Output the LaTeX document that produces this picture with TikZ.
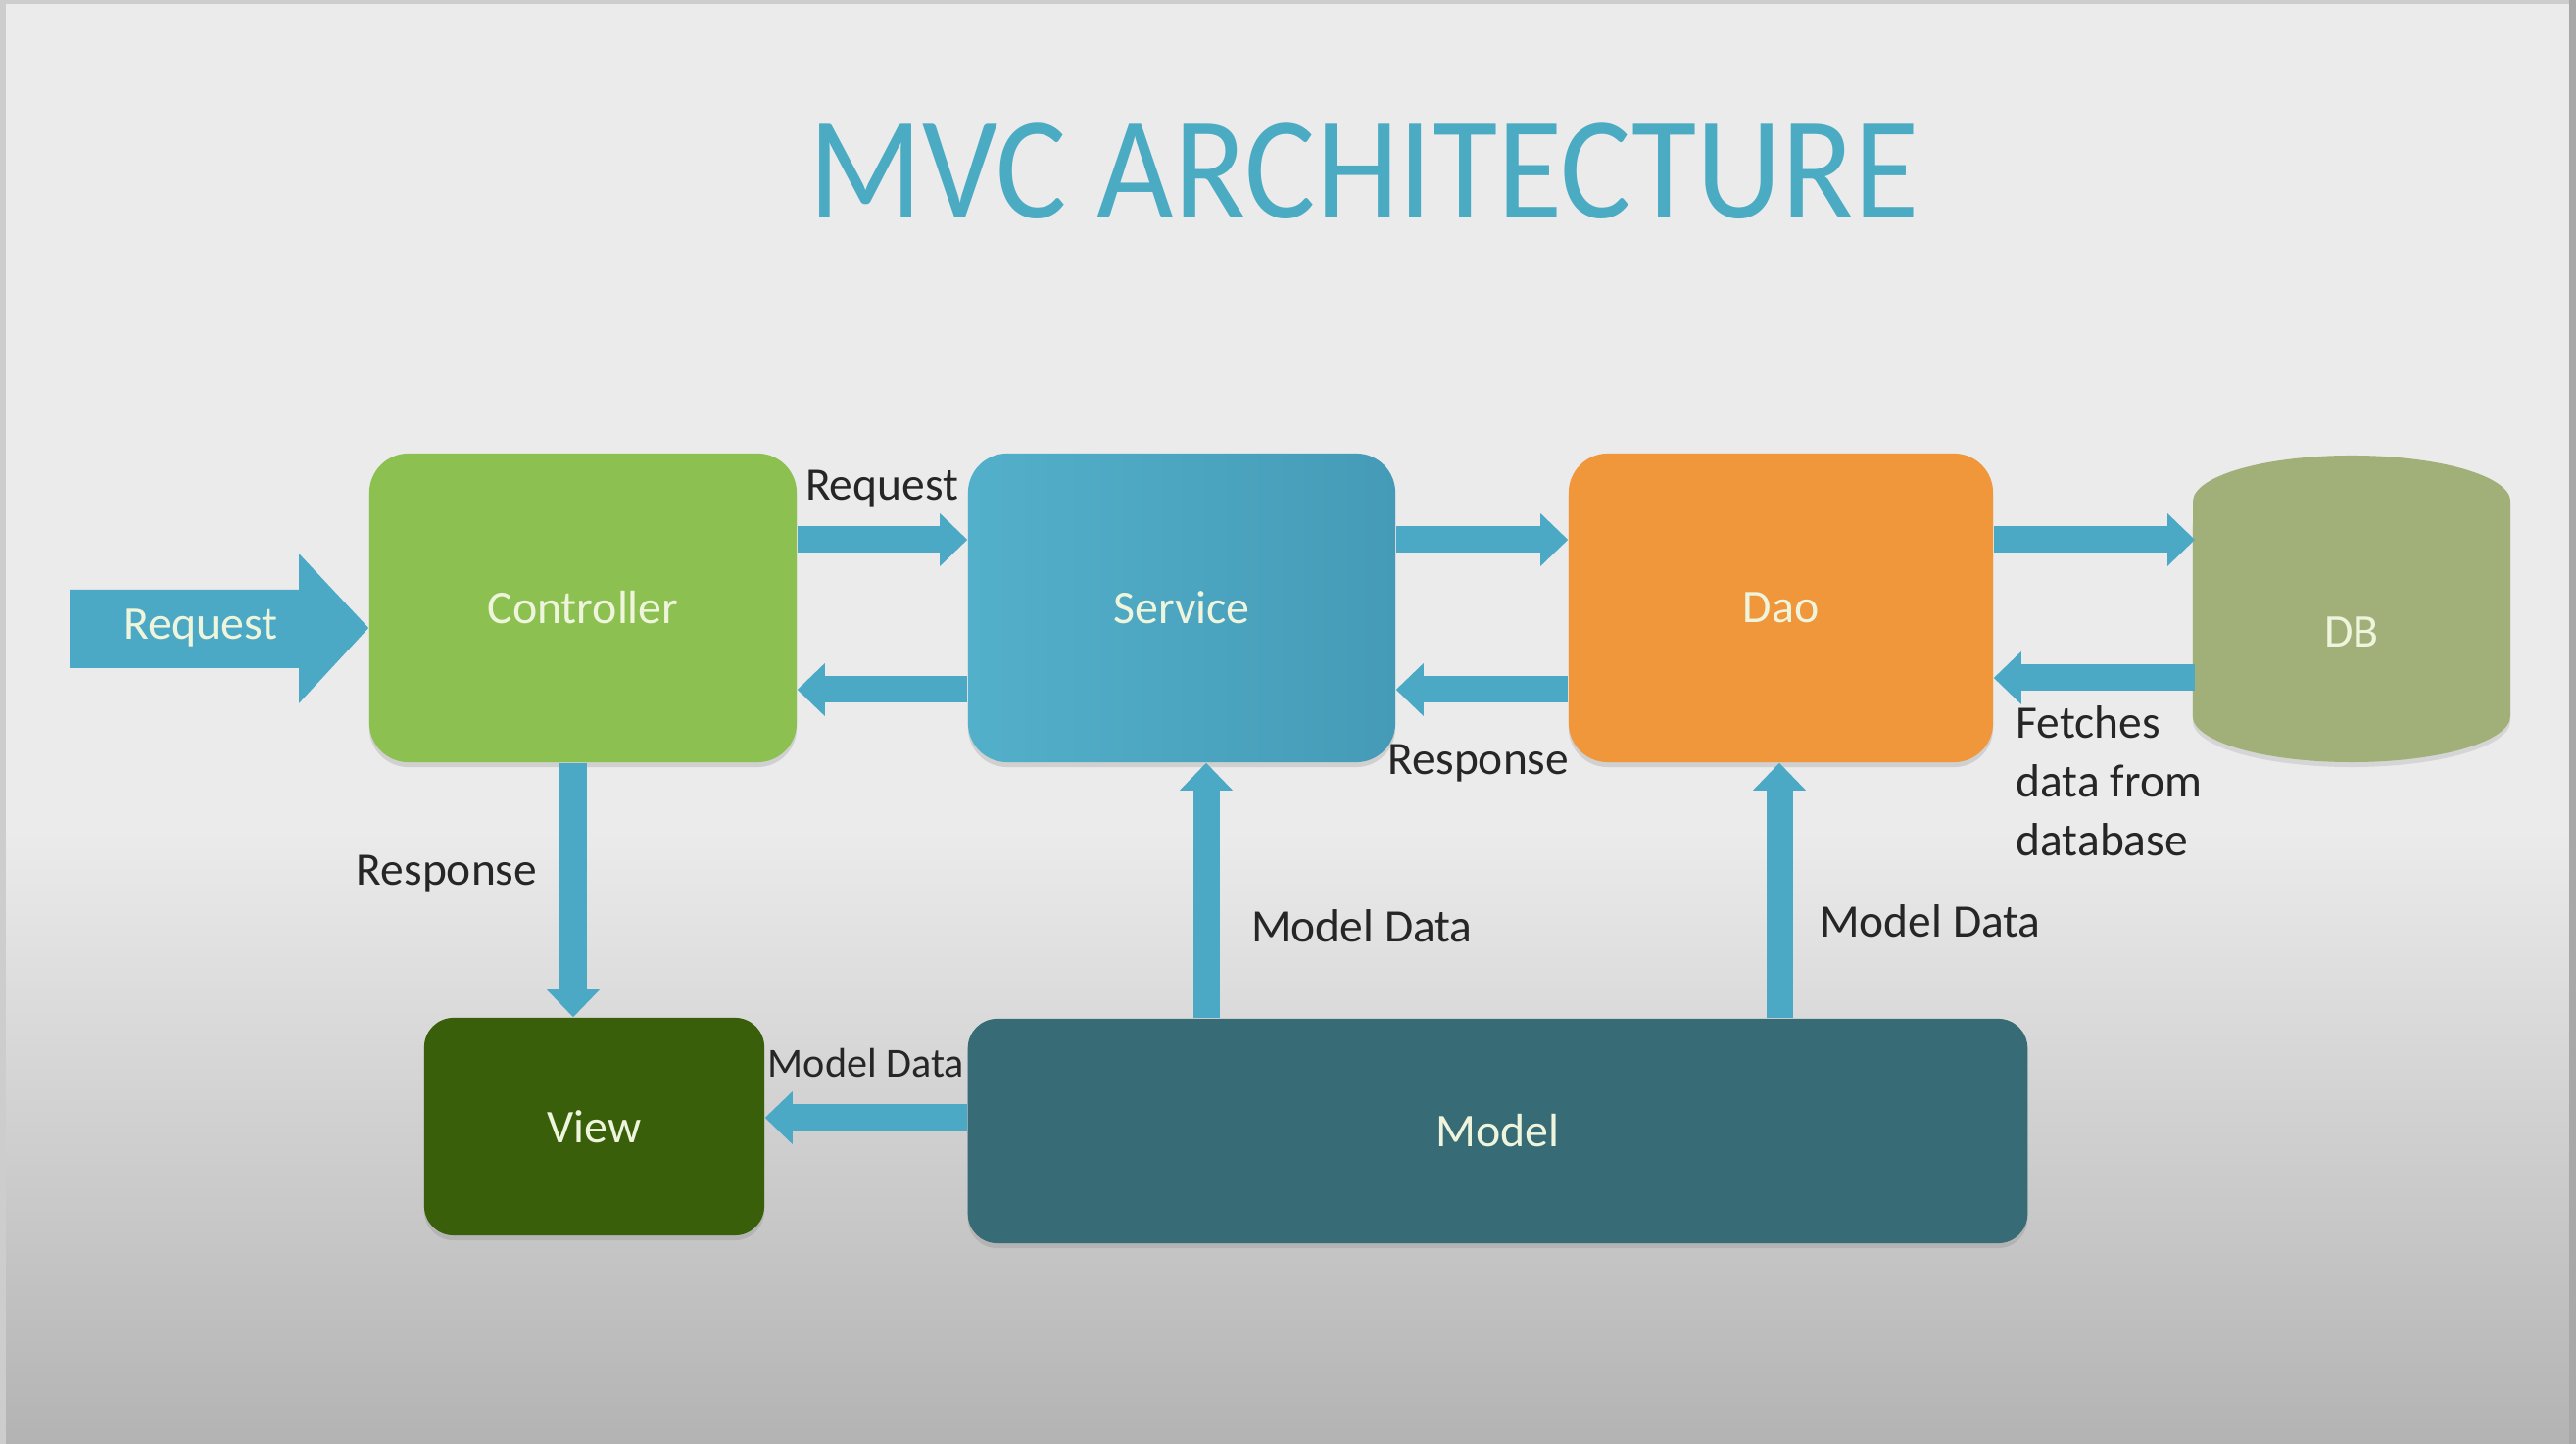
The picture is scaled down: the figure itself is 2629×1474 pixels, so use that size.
\documentclass[tikz,border=0pt]{standalone}
\usepackage{fontspec}
\setmainfont{Carlito}
\usetikzlibrary{arrows.meta,shadows}

\definecolor{bgtop}{HTML}{EBEBEB}
\definecolor{bgbot}{HTML}{B3B3B3}
\definecolor{frameL}{HTML}{CDCDCD}
\definecolor{frameR}{HTML}{A8A8A8}
\definecolor{titlec}{HTML}{4AABC3}
\definecolor{arrowc}{HTML}{4BA9C5}
\definecolor{ctrlc}{HTML}{8CC152}
\definecolor{svcL}{HTML}{53B0CA}
\definecolor{svcR}{HTML}{459BB7}
\definecolor{daoc}{HTML}{F0963B}
\definecolor{dbc}{HTML}{A1B079}
\definecolor{viewc}{HTML}{3A5F0B}
\definecolor{modelc}{HTML}{376B76}
\definecolor{txt}{HTML}{262626}
\definecolor{boxtxt}{HTML}{EEF5DC}

\begin{document}
\begin{tikzpicture}[x=0.01cm, y=-0.01cm,
  box/.style={rounded corners=0.4cm, minimum width=4.36cm, minimum height=3.15cm,
    inner sep=0pt, text=boxtxt, font=\fontsize{13.6}{16}\selectfont,
    drop shadow={shadow xshift=0cm, shadow yshift=-0.05cm, opacity=0.25}},
  lowbox/.style={box, rounded corners=0.3cm},
  flow/.style={draw=arrowc, line width=0.27cm,
    -{Triangle[width=0.54cm, length=0.28cm, line width=0pt]}},
  lbl/.style={text=txt, font=\fontsize{13.5}{17}\selectfont, inner sep=0pt, anchor=base},
  headline/.style={text=titlec, font=\fontsize{42.4}{50}\selectfont, inner sep=0pt,
    anchor=base, xscale=0.91},
]
\useasboundingbox (0,0) rectangle (2629,1474);

% slide background and frame
\fill[bgtop] (0,0) rectangle (2629,850);
\shade[top color=bgtop, bottom color=bgbot] (0,849) rectangle (2629,1474);
\fill[frameL] (0,0) rectangle (6,1474);
\fill[frameL] (0,0) rectangle (2629,4);
\fill[frameR] (2622,0) rectangle (2629,1474);

% title
\node[headline] (title) at (1392,223) {MVC ARCHITECTURE};

% components
\node[box, fill=ctrlc] (ctrl) at (595,620.5) {Controller};
\node[box, left color=svcL, right color=svcR] (svc) at (1206,620.5) {Service};
\node[box, fill=daoc, minimum width=4.33cm] (dao) at (1817.5,620.5) {Dao};
\node[lowbox, fill=viewc, minimum width=3.47cm, minimum height=2.22cm] (view) at (606.5,1150) {View};
\node[lowbox, fill=modelc, minimum width=10.81cm, minimum height=2.29cm] (model) at (1528.5,1154.5) {Model};

% database cylinder
\fill[dbc, drop shadow={shadow xshift=0cm, shadow yshift=-0.05cm, opacity=0.2}]
  (2238,512) arc[start angle=180, end angle=0, x radius=1.62cm, y radius=0.47cm]
  -- (2562,731) arc[start angle=0, end angle=-180, x radius=1.62cm, y radius=0.47cm]
  -- cycle;
\node[text=boxtxt, font=\fontsize{13.6}{16}\selectfont] (db) at (2400,645) {DB};

% lanes for the connectors
\coordinate (yT) at (0,551);
\coordinate (yB) at (0,704);
\coordinate (yF) at (0,692);
\coordinate (yM) at (0,1141);
\coordinate (yR) at (0,641);
\coordinate (xR) at (585,0);
\coordinate (xS) at (1231,0);
\coordinate (xD) at (1816,0);
\coordinate (dbA) at (2240,551);
\coordinate (dbB) at (2240,692);
\coordinate (reqTip) at (ctrl.west |- yR);

% incoming request
\fill[arrowc] (71,602) -- (305,602) -- (305,565) -- (reqTip) -- (305,718)
  -- (305,682) -- (71,682) -- cycle;
\node[text=boxtxt, font=\fontsize{13.6}{16}\selectfont] (req) at (205,641) {Request};

% connectors
\draw[flow] (ctrl.east |- yT) -- (svc.west |- yT);
\draw[flow] (svc.west |- yB) -- (ctrl.east |- yB);
\draw[flow] (svc.east |- yT) -- (dao.west |- yT);
\draw[flow] (dao.west |- yB) -- (svc.east |- yB);
\draw[flow] (dao.east |- dbA) -- (dbA);
\draw[flow] (dbB) -- (dao.east |- dbB);
\draw[flow] (ctrl.south -| xR) -- (view.north -| xR);
\draw[flow] (model.north -| xS) -- (svc.south -| xS);
\draw[flow] (model.north -| xD) -- (dao.south -| xD);
\draw[flow] (model.west |- yM) -- (view.east |- yM);

% connector labels
\node[lbl] (lreq) at (900,511) {Request};
\node[lbl] (lresp) at (1509,791) {Response};
\node[lbl] (lview) at (456,904) {Response};
\node[lbl] (lmsvc) at (1390,962) {Model Data};
\node[lbl] (lmdao) at (1970,957) {Model Data};
\node[lbl, font=\fontsize{12}{14}\selectfont] (lmview) at (884,1100) {Model Data};
\node[lbl, anchor=north west, align=left] (lfetch) at (2057,720) {Fetches\\data from\\database};
\end{tikzpicture}
\end{document}
